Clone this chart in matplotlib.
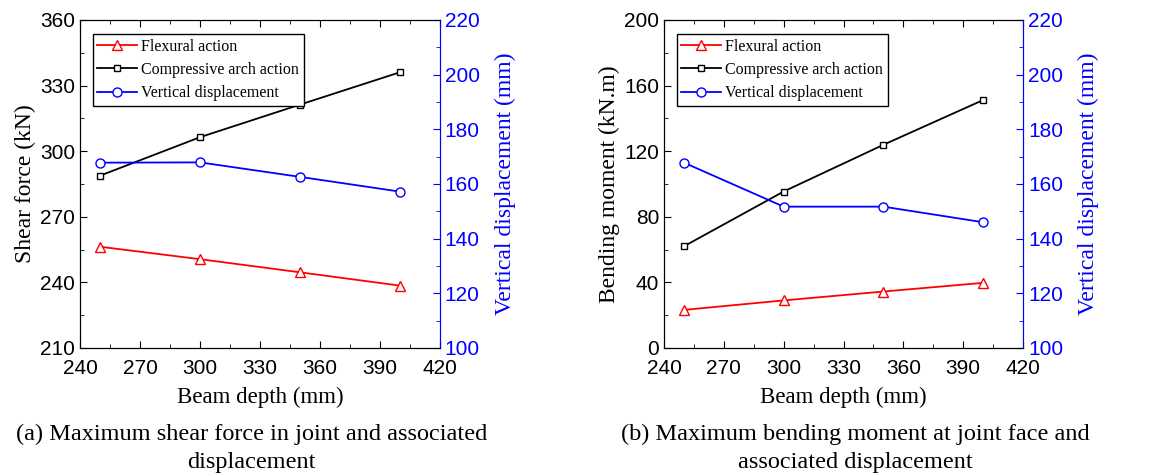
import matplotlib.pyplot as plt
from matplotlib.ticker import MultipleLocator
from matplotlib.lines import Line2D

depth = [250, 300, 350, 400]

# (a) shear force in joint
shear_flexural = [256.3, 250.6, 244.6, 238.5]
shear_arch = [288.8, 306.4, 321.3, 336.1]
disp_a = [167.8, 167.9, 162.6, 157.2]

# (b) bending moment at joint face
moment_flexural = [23.2, 29.0, 34.4, 39.7]
moment_arch = [62.0, 95.4, 123.9, 151.2]
disp_b = [167.8, 151.7, 151.7, 146.0]

serif = 'Liberation Serif'
sans = 'Liberation Sans'
blue = '#0000ff'

fig = plt.figure(figsize=(11.5, 4.76), dpi=100)


def panel(rect, flex, arch, disp, ylim, ystep, ylabel, caption, cap_x):
    ax = fig.add_axes(rect)
    ax.plot(depth, flex, color='red', marker='^', mfc='white', mec='red',
            ms=6.5, mew=1, lw=1.3)
    ax.plot(depth, arch, color='black', marker='s', mfc='white', mec='black',
            ms=5, mew=1, lw=1.3)
    ax.set_xlim(240, 420)
    ax.set_ylim(*ylim)
    ax.xaxis.set_major_locator(MultipleLocator(30))
    ax.xaxis.set_minor_locator(MultipleLocator(15))
    ax.yaxis.set_major_locator(MultipleLocator(ystep))
    ax.yaxis.set_minor_locator(MultipleLocator(ystep / 2))
    ax.tick_params(which='both', direction='in', top=True, right=False)
    ax.tick_params(which='major', length=5, labelsize=15)
    ax.tick_params(which='minor', length=3)
    ax.tick_params(axis='x', which='major', pad=8)
    for lab in ax.get_xticklabels() + ax.get_yticklabels():
        lab.set_fontfamily(sans)
    ax.set_xlabel('Beam depth (mm)', fontfamily=serif, fontsize=16.5, labelpad=6)
    ax.set_ylabel(ylabel, fontfamily=serif, fontsize=17, labelpad=3)

    ax2 = ax.twinx()
    ax2.plot(depth, disp, color=blue, marker='o', mfc='white', mec=blue,
             ms=6.5, mew=1, lw=1.3)
    ax2.set_ylim(100, 220)
    ax2.yaxis.set_major_locator(MultipleLocator(20))
    ax2.yaxis.set_minor_locator(MultipleLocator(10))
    ax2.tick_params(which='both', direction='in', colors=blue)
    ax2.tick_params(which='major', length=5, labelsize=15)
    ax2.tick_params(which='minor', length=3)
    for lab in ax2.get_yticklabels():
        lab.set_fontfamily(sans)
    ax2.spines['right'].set_color(blue)
    ax2.set_ylabel('Vertical displacement (mm)', color=blue, fontfamily=serif,
                   fontsize=17, labelpad=11)

    handles = [
        Line2D([], [], color='red', marker='^', mfc='white', mec='red', ms=6.5, lw=1.3),
        Line2D([], [], color='black', marker='s', mfc='white', mec='black', ms=5, lw=1.3),
        Line2D([], [], color=blue, marker='o', mfc='white', mec=blue, ms=6.5, lw=1.3),
    ]
    leg = ax.legend(handles, ['Flexural action', 'Compressive arch action',
                              'Vertical displacement'],
                    loc='upper left', bbox_to_anchor=(0.035, 0.957),
                    prop={'family': serif, 'size': 11.5}, frameon=True,
                    fancybox=False, edgecolor='black', framealpha=1,
                    handlelength=2.5, handletextpad=0.25, labelspacing=0.45,
                    borderpad=0.3, borderaxespad=0)
    leg.get_frame().set_linewidth(1.0)
    leg.set_zorder(5)

    fig.text(cap_x, 0.058, caption, ha='center', va='center', fontfamily=serif,
             fontsize=17.5, linespacing=1.45)


panel([0.0696, 0.269, 0.313, 0.689], shear_flexural, shear_arch, disp_a,
      (210, 360), 30, 'Shear force (kN)',
      '(a) Maximum shear force in joint and associated\ndisplacement', 0.219)
panel([0.5774, 0.269, 0.3122, 0.689], moment_flexural, moment_arch, disp_b,
      (0, 200), 40, 'Bending moment (kN.m)',
      '(b) Maximum bending moment at joint face and\nassociated displacement', 0.744)

fig.savefig('out.png', dpi=100)
